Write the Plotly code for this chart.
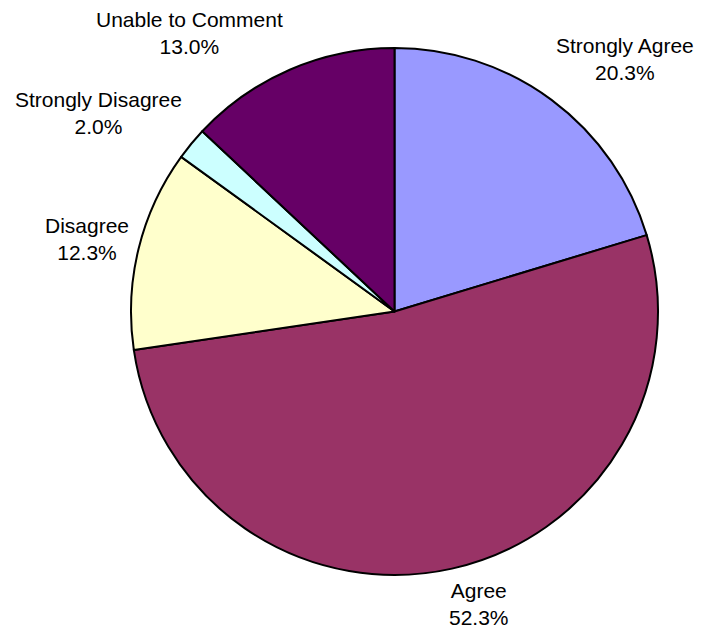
import math
import plotly.graph_objects as go

categories = ["Strongly Agree", "Agree", "Disagree", "Strongly Disagree", "Unable to Comment"]
values = [20.3, 52.3, 12.3, 2.0, 13.0]
colors = ["#9999FF", "#993366", "#FFFFCC", "#CCFFFF", "#660066"]

# page has an 8px body margin; figure sized to fit the window
OFF = 8
W, H = 704 - OFF, 631 - OFF
cx, cy, r = 394.5 - OFF, 311.5 - OFF, 263.5
gap = 14
FONT = dict(family="Liberation Sans, Arial, sans-serif", size=21, color="black")
# small pixel nudges (x right, y up) for label placement
NUDGE = {
    "Strongly Agree": (-5, 4),
    "Agree": (24, 4),
    "Disagree": (5, 6),
    "Strongly Disagree": (2, -4),
    "Unable to Comment": (0, -2),
}

fig = go.Figure(go.Pie(
    labels=categories,
    values=values,
    textinfo="none",
    sort=False,
    direction="clockwise",
    rotation=0,
    marker=dict(colors=colors, line=dict(color="black", width=2)),
    showlegend=False,
    hoverinfo="skip",
    automargin=False,
    domain=dict(x=[(cx - r) / W, (cx + r) / W], y=[(H - cy - r) / H, (H - cy + r) / H]),
))

total = sum(values)
cum = 0.0
for lab, v in zip(categories, values):
    mid = (cum + v / 2) / total * 2 * math.pi
    cum += v
    s, c = math.sin(mid), math.cos(mid)
    px = cx + (r + gap) * s
    py = cy - (r + gap) * c
    xa = "left" if s > 0.3 else ("right" if s < -0.3 else "center")
    ya = "bottom" if c > 0.3 else ("top" if c < -0.3 else "middle")
    dx, dy = NUDGE[lab]
    fig.add_annotation(
        x=px / W, y=1 - py / H, xref="paper", yref="paper",
        text=f"{lab}<br>{v:.1f}%", showarrow=False,
        xanchor=xa, yanchor=ya, align="center", font=FONT,
        xshift=dx, yshift=dy, borderpad=0,
    )

fig.update_layout(
    width=W, height=H,
    margin=dict(l=0, r=0, t=0, b=0),
    paper_bgcolor="white", plot_bgcolor="white",
)
fig.write_html("out.html")
